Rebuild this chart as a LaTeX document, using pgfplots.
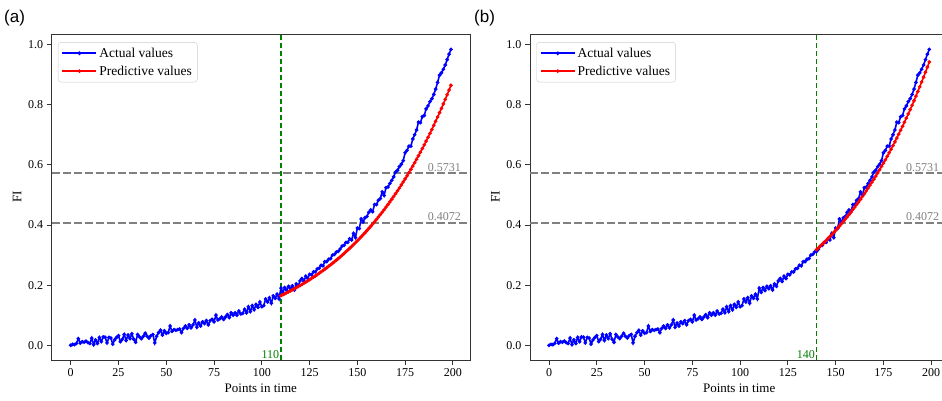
\documentclass[border=0pt]{standalone}
\usepackage{fontspec}
\setmainfont{Liberation Serif}
\newfontfamily\arialfont{Liberation Sans}
\usepackage{pgfplots}
\usepackage{pgfplotstable}
\pgfplotsset{compat=1.18}
\definecolor{mplgreen}{RGB}{0,128,0}
\definecolor{legframe}{RGB}{204,204,204}
\definecolor{hgray}{RGB}{128,128,128}

\pgfplotstableread{
t v
0 0.000
1 0.003
2 0.002
3 0.006
4 0.022
5 0.007
6 0.012
7 0.010
8 0.014
9 0.009
10 0.006
11 0.024
12 0.002
13 0.018
14 0.006
15 0.026
16 0.012
17 0.028
18 0.027
19 0.008
20 0.026
21 0.024
22 0.004
23 0.018
24 0.026
25 0.032
26 0.012
27 0.020
28 0.036
29 0.016
30 0.034
31 0.022
32 0.038
33 0.020
34 0.010
35 0.036
36 0.028
37 0.022
38 0.030
39 0.040
40 0.030
41 0.024
42 0.032
43 0.036
44 0.008
45 0.030
46 0.042
47 0.050
48 0.034
49 0.048
50 0.040
51 0.042
52 0.064
53 0.046
54 0.052
55 0.050
56 0.052
57 0.054
58 0.042
59 0.056
60 0.064
61 0.056
62 0.068
63 0.058
64 0.068
65 0.084
66 0.060
67 0.074
68 0.064
69 0.078
70 0.072
71 0.082
72 0.068
73 0.082
74 0.086
75 0.078
76 0.100
77 0.084
78 0.088
79 0.094
80 0.086
81 0.094
82 0.102
83 0.092
84 0.108
85 0.100
86 0.108
87 0.100
88 0.114
89 0.104
90 0.106
91 0.120
92 0.108
93 0.128
94 0.112
95 0.132
96 0.118
97 0.136
98 0.126
99 0.144
100 0.128
101 0.132
102 0.154
103 0.144
104 0.158
105 0.140
106 0.164
107 0.156
108 0.170
109 0.154
110 0.190
111 0.176
112 0.192
113 0.182
114 0.196
115 0.188
116 0.198
117 0.184
118 0.204
119 0.196
120 0.214
121 0.222
122 0.212
123 0.230
124 0.222
125 0.236
126 0.234
127 0.244
128 0.244
129 0.254
130 0.256
131 0.266
132 0.264
133 0.278
134 0.278
135 0.286
136 0.288
137 0.300
138 0.302
139 0.310
140 0.312
141 0.320
142 0.330
143 0.332
144 0.342
145 0.342
146 0.354
147 0.350
148 0.372
149 0.358
150 0.390
151 0.388
152 0.420
153 0.410
154 0.424
155 0.428
156 0.442
157 0.450
158 0.444
159 0.468
160 0.468
161 0.482
162 0.488
163 0.510
164 0.498
165 0.524
166 0.526
167 0.538
168 0.548
169 0.560
170 0.576
171 0.582
172 0.594
173 0.602
174 0.614
175 0.640
176 0.648
177 0.662
178 0.662
179 0.686
180 0.700
181 0.716
182 0.742
183 0.740
184 0.760
185 0.764
186 0.786
187 0.796
188 0.810
189 0.820
190 0.834
191 0.852
192 0.874
193 0.898
194 0.906
195 0.918
196 0.932
197 0.950
198 0.968
199 0.984
}\actual

\pgfplotsset{
 panel/.style={
  scale only axis, width=418.3pt, height=325.7pt, anchor=south west,
  xmin=-9.95, xmax=208.95, ymin=-0.049, ymax=1.034,
  xtick={0,25,50,75,100,125,150,175,200},
  ytick={0,0.2,0.4,0.6,0.8,1.0},
  yticklabel style={/pgf/number format/.cd,fixed,fixed zerofill,precision=1},
  /pgf/number format/assume math mode=true,
  tick align=outside, tick pos=left, major tick length=5pt,
  axis line style={line width=0.9pt, black!80},
  every tick/.style={black!80, line width=0.9pt},
  ticklabel style={font=\fontsize{12}{14}\selectfont},
  label style={font=\fontsize{13}{15}\selectfont},
  xlabel={Points in time}, ylabel={FI},
  legend style={at={(0.015,0.976)}, anchor=north west, draw=legframe,
    rounded corners=3pt, font=\fontsize{13.5}{15}\selectfont, row sep=3pt,
    inner sep=3.5pt},
  legend cell align=left,
  legend image code/.code={\draw[##1, mark repeat=2, mark phase=2] plot coordinates {(0pt,0pt) (17pt,0pt) (34pt,0pt)};},
 },
 hline/.style={hgray, line width=1.5pt, dash pattern=on 8pt off 3pt, forget plot},
 vline/.style={mplgreen, line width=1.4pt, dash pattern=on 5pt off 3pt, forget plot},
 act/.style={blue, line width=1.6pt, mark=*, mark size=0.9pt},
 pred/.style={red, line width=1.6pt, mark=*, mark size=0.9pt},
}

\begin{document}
\begin{tikzpicture}
\useasboundingbox (0,0) rectangle (942pt,400pt);
% ---------- panel (a)
\begin{axis}[panel, at={(51.7pt,40pt)}]
\addplot[hline] coordinates {(-9.95,0.5731) (208.95,0.5731)};
\addplot[hline] coordinates {(-9.95,0.4072) (208.95,0.4072)};
\addplot[vline] coordinates {(110,-0.049) (110,1.034)};
\addplot[act] table[x=t,y=v] {\actual};
\addlegendentry{Actual values}
\addplot[pred] coordinates {
(110,0.1650) (111,0.1681) (112,0.1713) (113,0.1745) (114,0.1777) (115,0.1811) (116,0.1845) (117,0.1879) (118,0.1915) (119,0.1951)
(120,0.1987) (121,0.2024) (122,0.2062) (123,0.2101) (124,0.2141) (125,0.2181) (126,0.2222) (127,0.2263) (128,0.2306) (129,0.2349)
(130,0.2394) (131,0.2439) (132,0.2484) (133,0.2531) (134,0.2579) (135,0.2627) (136,0.2676) (137,0.2727) (138,0.2778) (139,0.2830)
(140,0.2884) (141,0.2938) (142,0.2993) (143,0.3049) (144,0.3107) (145,0.3165) (146,0.3225) (147,0.3285) (148,0.3347) (149,0.3410)
(150,0.3474) (151,0.3539) (152,0.3606) (153,0.3673) (154,0.3742) (155,0.3813) (156,0.3884) (157,0.3957) (158,0.4032) (159,0.4107)
(160,0.4184) (161,0.4263) (162,0.4343) (163,0.4424) (164,0.4508) (165,0.4592) (166,0.4679) (167,0.4767) (168,0.4856) (169,0.4947)
(170,0.5040) (171,0.5135) (172,0.5231) (173,0.5330) (174,0.5430) (175,0.5532) (176,0.5635) (177,0.5741) (178,0.5849) (179,0.5959)
(180,0.6071) (181,0.6185) (182,0.6301) (183,0.6419) (184,0.6540) (185,0.6663) (186,0.6788) (187,0.6915) (188,0.7045) (189,0.7177)
(190,0.7312) (191,0.7449) (192,0.7589) (193,0.7732) (194,0.7877) (195,0.8025) (196,0.8176) (197,0.8329) (198,0.8486) (199,0.8645)
};
\addlegendentry{Predictive values}
\node[hgray, anchor=south west, inner sep=1.5pt, font=\fontsize{12}{14}\selectfont] at (axis cs:186,0.5731) {0.5731};
\node[hgray, anchor=south west, inner sep=1.5pt, font=\fontsize{12}{14}\selectfont] at (axis cs:186,0.4072) {0.4072};
\node[mplgreen, anchor=south east, inner sep=1.5pt, font=\fontsize{12}{14}\selectfont] at (axis cs:110,-0.049) {110};
\end{axis}
% ---------- panel (b)
\begin{axis}[panel, at={(530pt,40pt)}]
\addplot[hline] coordinates {(-9.95,0.5731) (208.95,0.5731)};
\addplot[hline] coordinates {(-9.95,0.4072) (208.95,0.4072)};
\addplot[vline] coordinates {(140,-0.049) (140,1.034)};
\addplot[act] table[x=t,y=v] {\actual};
\addlegendentry{Actual values}
\addplot[pred] coordinates {
(140,0.3180) (141,0.3239) (142,0.3299) (143,0.3360) (144,0.3423) (145,0.3486) (146,0.3551) (147,0.3617) (148,0.3684) (149,0.3752)
(150,0.3822) (151,0.3893) (152,0.3966) (153,0.4039) (154,0.4114) (155,0.4191) (156,0.4269) (157,0.4348) (158,0.4429) (159,0.4511)
(160,0.4595) (161,0.4680) (162,0.4767) (163,0.4856) (164,0.4946) (165,0.5038) (166,0.5132) (167,0.5227) (168,0.5324) (169,0.5423)
(170,0.5524) (171,0.5627) (172,0.5731) (173,0.5838) (174,0.5946) (175,0.6057) (176,0.6169) (177,0.6284) (178,0.6401) (179,0.6520)
(180,0.6641) (181,0.6764) (182,0.6890) (183,0.7018) (184,0.7148) (185,0.7281) (186,0.7416) (187,0.7554) (188,0.7694) (189,0.7837)
(190,0.7982) (191,0.8131) (192,0.8282) (193,0.8436) (194,0.8592) (195,0.8752) (196,0.8914) (197,0.9080) (198,0.9248) (199,0.9420)
};
\addlegendentry{Predictive values}
\node[hgray, anchor=south west, inner sep=1.5pt, font=\fontsize{12}{14}\selectfont] at (axis cs:186,0.5731) {0.5731};
\node[hgray, anchor=south west, inner sep=1.5pt, font=\fontsize{12}{14}\selectfont] at (axis cs:186,0.4072) {0.4072};
\node[mplgreen, anchor=south east, inner sep=1.5pt, font=\fontsize{12}{14}\selectfont] at (axis cs:140,-0.049) {140};
\end{axis}
\node[font=\arialfont\fontsize{17}{20}\selectfont, anchor=north west, inner sep=0pt] at (4pt,390pt) {(a)};
\node[font=\arialfont\fontsize{17}{20}\selectfont, anchor=north west, inner sep=0pt] at (474pt,390pt) {(b)};
\end{tikzpicture}
\end{document}
